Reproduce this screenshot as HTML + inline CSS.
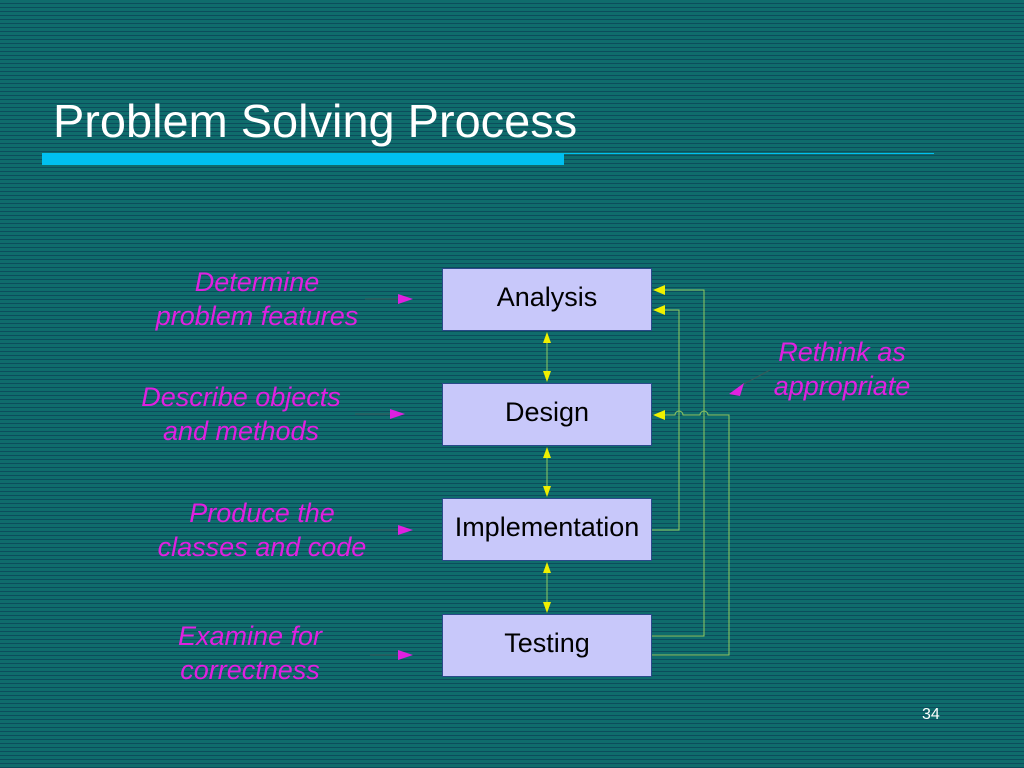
<!DOCTYPE html>
<html><head><style>
html,body{margin:0;padding:0}
body{width:1024px;height:768px;overflow:hidden;position:relative;font-family:"Liberation Sans",sans-serif;
background:repeating-linear-gradient(to bottom,#0f6c6c 0px,#0f6c6c 3px,#0c4c5c 3px,#0c4c5c 4px);}
.t{position:absolute;color:#fff}
.box{position:absolute;left:442px;width:210px;height:63px;background:#c8c8fa;border:1px solid #2a4a8a;box-sizing:border-box;color:#000;font-size:27px;text-align:center;line-height:56px}
.m{position:absolute;color:#e020e0;font-style:italic;font-size:27px;text-align:center;line-height:34px;white-space:nowrap}
</style></head><body>
<div class="t" style="left:53px;top:94px;font-size:46px;transform:scaleX(1.02);transform-origin:left">Problem Solving Process</div>
<div style="position:absolute;left:42px;top:153px;width:522px;height:12px;background:#00c0f0"></div>
<div style="position:absolute;left:564px;top:153px;width:370px;height:1px;background:#00c0f0"></div>
<div class="box" style="top:268px">Analysis</div>
<div class="box" style="top:383px">Design</div>
<div class="box" style="top:498px">Implementation</div>
<div class="box" style="top:614px">Testing</div>
<div class="m" style="left:107px;top:265px;width:300px">Determine<br>problem features</div>
<div class="m" style="left:91px;top:380px;width:300px">Describe objects<br>and methods</div>
<div class="m" style="left:112px;top:496px;width:300px">Produce the<br>classes and code</div>
<div class="m" style="left:100px;top:619px;width:300px">Examine for<br>correctness</div>
<div class="m" style="left:742px;top:335px;width:200px">Rethink as<br>appropriate</div>
<div class="t" style="left:922px;top:706px;font-size:16px">34</div>
<svg width="1024" height="768" style="position:absolute;left:0;top:0">
<g stroke="#3a5a5a" stroke-width="1">
<line x1="365" y1="299" x2="398" y2="299"/>
<line x1="355" y1="414" x2="390" y2="414"/>
<line x1="370" y1="530" x2="398" y2="530"/>
<line x1="370" y1="655" x2="398" y2="655"/>
<line x1="742" y1="385" x2="770" y2="370"/>
</g>
<g fill="#e020e0">
<polygon points="398,294 413,299 398,304"/>
<polygon points="390,409 405,414 390,419"/>
<polygon points="398,525 413,530 398,535"/>
<polygon points="398,650 413,655 398,660"/>
<polygon points="729,394 744,383 740,396"/>
</g>
<g stroke="#90c860" stroke-width="1" fill="none">
<line x1="547" y1="340" x2="547" y2="375"/>
<line x1="547" y1="455" x2="547" y2="490"/>
<line x1="547" y1="570" x2="547" y2="606"/>
<polyline points="652,530 679,530 679,310 660,310"/>
<polyline points="652,636 704,636 704,290 660,290"/>
<path d="M652,655 H729 V415 H708 a4,4 0 0 0 -8,0 H683 a4,4 0 0 0 -8,0 H660"/>
</g>
<g fill="#f0f000">
<polygon points="547,332 543,343 551,343"/>
<polygon points="547,382 543,371 551,371"/>
<polygon points="547,447 543,458 551,458"/>
<polygon points="547,497 543,486 551,486"/>
<polygon points="547,562 543,573 551,573"/>
<polygon points="547,613 543,602 551,602"/>
<polygon points="653,290 665,285 665,295"/>
<polygon points="653,310 665,305 665,315"/>
<polygon points="653,415 665,410 665,420"/>
</g>
</svg>
</body></html>
